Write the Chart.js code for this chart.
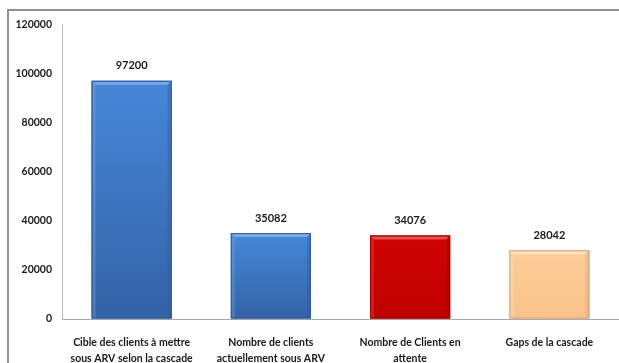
<!DOCTYPE html>
<html>
<head>
<meta charset="utf-8">
<script src="https://cdn.jsdelivr.net/npm/chart.js@4.4.1/dist/chart.umd.min.js"></script>
<style>
  html, body { margin: 0; padding: 0; background: #fff; overflow: hidden; }
  #wrap { position: relative; width: 619px; height: 363px; }
  #frame { position: absolute; left: 7px; top: 9px; width: 640px; height: 400px;
           border: 2px solid #8f8f8f; box-sizing: border-box; }
  #c { position: absolute; left: 0; top: 0; }
</style>
</head>
<body>
<div id="wrap">
  <div id="frame"></div>
  <canvas id="c" width="619" height="363"></canvas>
</div>
<script>
// Categories (multi-line labels under each bar)
const categories = [
  ["Cible des clients à mettre", "sous ARV selon la cascade"],
  ["Nombre de clients", "actuellement sous ARV"],
  ["Nombre de Clients en", "attente"],
  ["Gaps de la cascade"]
];
// Number of clients per category
const values = [97200, 35082, 34076, 28042];
// Y axis range and step
const yMin = 0;
const yMax = 120000;
const yStep = 20000;

// Bar palettes: base, light (top), dark (bottom), edge, highlight
const palettes = [
  { base: "#3f7bcc", light: "#4687d9", dark: "#3462a6", edge: "#2f5a98", hi: "#79a9e6" },
  { base: "#3f7bcc", light: "#4687d9", dark: "#3462a6", edge: "#2f5a98", hi: "#79a9e6" },
  { base: "#c80000", light: "#d00404", dark: "#c00000", edge: "#9c0000", hi: "#e45050" },
  { base: "#fcc892", light: "#fdcd98", dark: "#f9c28a", edge: "#d7a276", hi: "#fee2c2" }
];

const numFont = { family: "Lato, sans-serif", size: 10.5, weight: "bold" };
const catFont = { family: "Lato, sans-serif", size: 10.5, weight: "bold", lineHeight: "16px" };

// Bevelled, shaded finish on top of every bar
const bevelBars = {
  id: "bevelBars",
  afterDatasetsDraw(chart) {
    const ctx = chart.ctx;
    const meta = chart.getDatasetMeta(0);
    meta.data.forEach((bar, i) => {
      const p = palettes[i];
      const { x, y, base, width } = bar.getProps(["x", "y", "base", "width"], true);
      const l = x - width / 2, r = x + width / 2, t = y, b = base;
      const bv = 4;
      ctx.save();
      const g = ctx.createLinearGradient(0, t, 0, b);
      g.addColorStop(0, p.light);
      g.addColorStop(1, p.dark);
      ctx.fillStyle = g;
      ctx.fillRect(l, t, r - l, b - t);
      // top bevel
      ctx.beginPath();
      ctx.moveTo(l, t); ctx.lineTo(r, t); ctx.lineTo(r - bv, t + bv); ctx.lineTo(l + bv, t + bv); ctx.closePath();
      ctx.fillStyle = p.hi; ctx.fill();
      // left bevel
      ctx.beginPath();
      ctx.moveTo(l, t); ctx.lineTo(l + bv, t + bv); ctx.lineTo(l + bv, b); ctx.lineTo(l, b); ctx.closePath();
      ctx.globalAlpha = 0.35; ctx.fillStyle = p.hi; ctx.fill();
      // right bevel
      ctx.beginPath();
      ctx.moveTo(r, t); ctx.lineTo(r - bv, t + bv); ctx.lineTo(r - bv, b); ctx.lineTo(r, b); ctx.closePath();
      ctx.globalAlpha = 0.35; ctx.fillStyle = p.edge; ctx.fill();
      ctx.globalAlpha = 1;
      ctx.strokeStyle = p.edge; ctx.lineWidth = 1;
      ctx.strokeRect(l + 0.5, t + 0.5, r - l - 1, b - t - 1);
      ctx.restore();
    });
  }
};

// Value labels above the bars
const valueLabels = {
  id: "valueLabels",
  afterDatasetsDraw(chart) {
    const ctx = chart.ctx;
    const meta = chart.getDatasetMeta(0);
    ctx.save();
    ctx.font = `bold 11px ${numFont.family}`;
    ctx.fillStyle = "#1a1a1a";
    ctx.textAlign = "center";
    ctx.textBaseline = "middle";
    meta.data.forEach((bar, i) => {
      ctx.fillText(String(values[i]), bar.x, bar.y - 15);
    });
    ctx.restore();
  }
};

new Chart(document.getElementById("c"), {
  type: "bar",
  data: {
    labels: categories,
    datasets: [{
      data: values,
      backgroundColor: palettes.map(p => p.base),
      borderWidth: 0,
      barPercentage: 0.575,
      categoryPercentage: 1
    }]
  },
  options: {
    responsive: false,
    animation: false,
    layout: { padding: { left: 0, right: 0, top: 25, bottom: 0 } },
    plugins: { legend: { display: false }, tooltip: { enabled: false } },
    scales: {
      x: {
        grid: { display: true, drawOnChartArea: false, drawTicks: false },
        border: { display: true, color: "#a8a8a8", width: 1 },
        ticks: { font: catFont, color: "#1a1a1a", padding: 16, maxRotation: 0, autoSkip: false },
        afterFit(scale) { scale.height = 44; }
      },
      y: {
        min: yMin, max: yMax,
        grid: { display: true, drawOnChartArea: false, drawTicks: false },
        border: { display: true, color: "#b8b8b8", width: 1 },
        ticks: { stepSize: yStep, font: numFont, color: "#1a1a1a", padding: 10,
                 callback: v => String(v) },
        afterFit(scale) { scale.width = 62; }
      }
    }
  },
  plugins: [bevelBars, valueLabels]
});
</script>
</body>
</html>
